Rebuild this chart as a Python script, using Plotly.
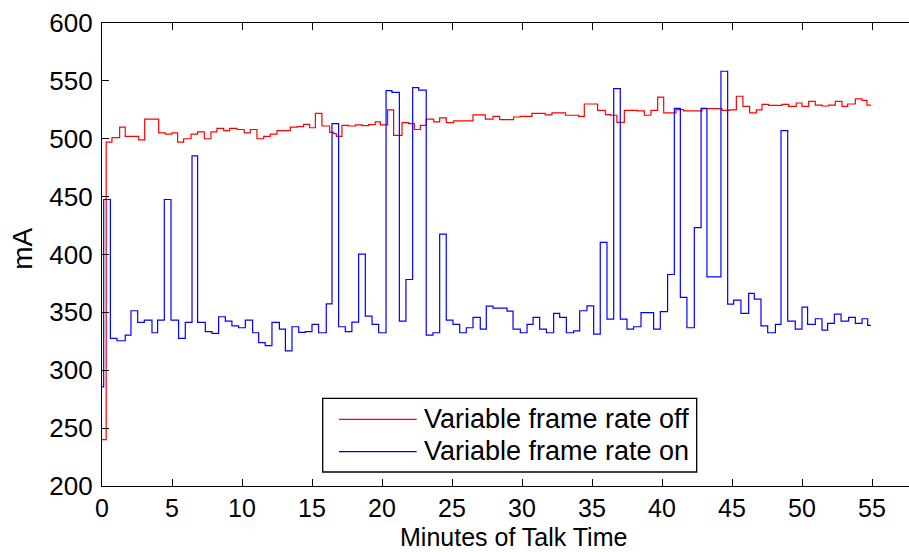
import plotly.graph_objects as go

# ---- data (minutes, mA) : step breakpoints ----
off_minutes = [0, 0.3, 0.71, 1.26, 1.66, 2.62, 3.05, 4.05, 4.52, 5.0, 5.40, 5.83, 6.36, 6.83,
               7.31, 7.78, 8.21, 8.69, 9.12, 9.64, 10.16, 10.59, 11.07, 11.55, 12.02, 12.5,
               13.45, 13.93, 14.4, 14.83, 15.24, 15.71, 16.26, 16.55, 16.74, 17.14, 17.62,
               18.1, 18.57, 19.04, 19.52, 19.88, 20.4, 20.83, 21.43, 21.9, 22.31, 22.74,
               23.16, 23.69, 24.12, 24.59, 25.12, 26.5, 27.38, 27.93, 28.4, 29.4, 29.88,
               30.71, 31.66, 32.14, 33.1, 34.04, 34.45, 35.4, 35.95, 36.31, 36.78, 37.31,
               38.21, 38.74, 39.21, 39.69, 40.12, 41.0, 41.55, 42.85, 44.28, 44.83, 45.31,
               45.78, 46.26, 46.74, 47.14, 47.62, 48.57, 49.05, 49.59, 50.0, 50.48, 50.95,
               51.43, 51.9, 52.38, 52.86, 53.26, 53.81, 54.29, 54.64, 54.93]
off_mA = [240, 497, 501, 510, 502, 499, 517, 505, 504, 505, 497, 500, 504, 506,
          500, 506, 509, 507, 509, 508, 505, 508, 500, 502, 504, 507,
          510, 510.5, 512.5, 509.5, 522, 511, 505.5, 504.5, 502, 511.5, 511,
          512, 511.3, 512.2, 514.5, 512, 525, 503, 514, 513, 508, 511.6,
          517, 514.5, 518, 514, 515.4, 520.6, 517, 519.4, 516.5, 518.8, 519.4,
          522, 520.6, 522.3, 520.3, 519.4, 530, 524.6, 520.8, 520.3, 514.2, 524.6,
          524, 520.3, 524.6, 536, 522.3, 525.2, 524, 526, 524.6, 525, 536.7,
          528, 522.3, 525, 529.7, 528.8, 529.7, 528, 530.9, 528, 532.3, 529.1,
          528.3, 529.1, 532.3, 528, 530, 534.4, 533.2, 529.1, 529.1]

on_minutes = [0, 0.12, 0.6, 1.07, 1.66, 2.07, 2.55, 3.02, 3.57, 3.97, 4.45, 4.93, 5.47, 5.95,
              6.43, 6.83, 7.38, 7.85, 8.33, 8.81, 9.28, 9.76, 10.24, 10.76, 11.19, 11.66,
              12.14, 12.67, 13.1, 13.57, 14.05, 14.52, 15.0, 15.47, 16.02, 16.43, 16.9,
              17.38, 17.85, 18.33, 18.81, 19.29, 19.76, 20.29, 20.71, 21.24, 21.71, 22.19,
              22.62, 23.16, 23.64, 24.12, 24.59, 25.07, 25.55, 26.02, 26.5, 27.02, 27.45,
              27.93, 28.93, 29.36, 29.88, 30.36, 30.79, 31.26, 31.74, 32.26, 32.69, 33.17,
              33.69, 34.12, 34.64, 35.12, 35.59, 36.07, 36.55, 37.02, 37.5, 37.97, 38.5,
              39.4, 39.88, 40.4, 40.88, 41.31, 41.78, 42.31, 42.79, 43.21, 44.21, 44.69,
              45.12, 45.64, 46.19, 46.59, 47.07, 47.55, 48.1, 48.5, 48.98, 49.52, 50.0,
              50.4, 50.95, 51.43, 51.83, 52.31, 52.79, 53.33, 53.81, 54.29, 54.69, 54.93]
on_mA = [285.7, 447.5, 327.5, 325.5, 330.4, 351.4, 341.3, 343.3, 332.4, 343.3, 447.5, 343.3, 327.5, 341.3,
         485.2, 341.3, 333.3, 331.9, 346.2, 342.4, 338.4, 336.7, 343.3, 332.4, 323.8, 321.2,
         341.3, 335.6, 316.8, 337.6, 332.7, 333.3, 339.6, 332.4, 357.4, 513.1, 337.6,
         333.3, 341.6, 400.3, 346.8, 339.6, 332.4, 541.5, 540, 342.4, 378.4, 544.2,
         542, 330.4, 332.4, 417.6, 343.3, 339.6, 332.4, 336.7, 345.6, 335.6, 355.4,
         353.7, 351, 335.6, 332.4, 339.6, 345.6, 335.6, 332.4, 349.1, 345.6, 332.4,
         334.1, 351.4, 355.7, 331.2, 410.4, 344.2, 543.3, 344.2, 335.6, 337.6, 349.7,
         335.6, 350.6, 382.7, 526.3, 362.9, 336.7, 423.3, 526.3, 380.7, 558.3, 357.1,
         360.6, 349.1, 366.4, 361.5, 338.4, 332.4, 339.6, 507.1, 342.4, 335.6, 354.5,
         339.6, 344.5, 334.7, 340.5, 348.5, 342.4, 345.6, 340.5, 344.5, 338.8, 338.8]

series_names = ["Variable frame rate off", "Variable frame rate on"]
series_colors = ["#ff0000", "#0000ff"]
x_ticks = list(range(0, 56, 5))
y_ticks = list(range(200, 601, 50))

FONT = "Liberation Sans, Arial, Helvetica, sans-serif"

fig = go.Figure()
fig.add_trace(go.Scatter(x=off_minutes, y=off_mA, mode="lines", line_shape="hv",
                         line=dict(color=series_colors[0], width=1.2),
                         name=series_names[0], showlegend=False))
fig.add_trace(go.Scatter(x=on_minutes, y=on_mA, mode="lines", line_shape="hv",
                         line=dict(color=series_colors[1], width=1.2),
                         name=series_names[1], showlegend=False))

W, H = 909, 552
L, R, T, B = 102, 0, 23, 66
pw, ph = W - L - R, H - T - B

def px(xp):
    return (xp - L) / pw

def py(yp):
    return (H - B - yp) / ph

shapes = [
    dict(type="rect", xref="paper", yref="paper", x0=px(322.7), x1=px(696.7),
         y0=py(472), y1=py(398.3), line=dict(color="black", width=1.3), fillcolor="white"),
    dict(type="line", xref="paper", yref="paper", x0=px(339), x1=px(416.7),
         y0=py(419.3), y1=py(419.3), line=dict(color=series_colors[0], width=1.2)),
    dict(type="line", xref="paper", yref="paper", x0=px(339), x1=px(416.7),
         y0=py(451.7), y1=py(451.7), line=dict(color=series_colors[1], width=1.2)),
]
annotations = [
    dict(text=series_names[0], xref="paper", yref="paper", x=px(422), y=py(418.5),
         xanchor="left", yanchor="middle", showarrow=False, font=dict(size=27, color="black", family=FONT)),
    dict(text=series_names[1], xref="paper", yref="paper", x=px(422), y=py(451),
         xanchor="left", yanchor="middle", showarrow=False, font=dict(size=27, color="black", family=FONT)),
    dict(text="Minutes of Talk Time", xref="paper", yref="paper", x=px(513), y=py(552),
         xanchor="center", yanchor="bottom", showarrow=False, borderpad=0,
         font=dict(size=25, color="black", family=FONT)),
    dict(text="mA", xref="paper", yref="paper", x=px(21.7), y=py(249), textangle=-90,
         xanchor="center", yanchor="middle", showarrow=False, font=dict(size=28, color="black", family=FONT)),
]

fig.update_layout(
    width=W, height=H,
    margin=dict(l=L, r=R, t=T, b=B, pad=0),
    paper_bgcolor="white", plot_bgcolor="white",
    font=dict(family=FONT, size=25, color="black"),
    shapes=shapes, annotations=annotations,
    showlegend=False,
)
fig.update_xaxes(range=[0, pw / 14.0], tickvals=x_ticks, ticks="inside", ticklen=7,
                 tickcolor="black", showline=True, linecolor="black", linewidth=1.3,
                 mirror="ticks", showgrid=False, zeroline=False,
                 tickfont=dict(size=25, family=FONT, color="black"))
fig.update_yaxes(range=[200, 600], tickvals=y_ticks, ticks="inside", ticklen=7,
                 tickcolor="black", showline=True, linecolor="black", linewidth=1.3,
                 mirror=False, showgrid=False, zeroline=False, ticklabelstandoff=3,
                 tickfont=dict(size=26, family=FONT, color="black"))

fig.write_html("out.html")
